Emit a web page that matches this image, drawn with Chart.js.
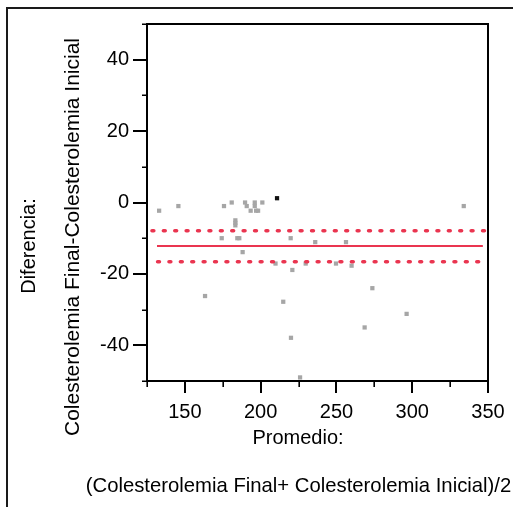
<!DOCTYPE html>
<html>
<head>
<meta charset="utf-8">
<script src="https://cdn.jsdelivr.net/npm/chart.js@4/dist/chart.umd.min.js"></script>
<style>
  html, body { margin: 0; padding: 0; background: #fff; }
  canvas { display: block; }
</style>
</head>
<body>
<canvas id="c" width="513" height="507"></canvas>
<script>
// Promedio (mean of final and initial cholesterol) for each patient
const promedio = [133, 145.7, 163.3, 174.3, 175.8, 180.9, 183.3, 183.3, 183.3, 184.6,
                  185.9, 188.1, 189.7, 190.8, 193.4, 196.1, 196.1, 197, 198.3, 201.1,
                  209.8, 214.9, 219.8, 220, 220.9, 226, 229.7, 236, 249.7, 256.3,
                  260, 268.6, 273.7, 296.3, 334];
// Diferencia (final minus initial cholesterol) for each patient
const diferencia = [-2.3, -1, -26.2, -10, -1, 0, -5, -5.7, -6.4, -10,
                    -10, -13.9, 0, -1, -2.3, 0, -1, -2.3, -2.3, 0,
                    -17.1, -27.8, -10, -37.9, -18.9, -49, -17.1, -11.1, -17.1, -11.1,
                    -17.7, -35, -24, -31.2, -1];
// Highlighted observation
const destacadoX = [210.8];
const destacadoY = [1.2];

// Mean difference and its confidence limits, with the x extent of each line
const mediaDif = -12.2;
const limiteSup = -7.9;
const limiteInf = -16.6;
const mediaRango = [131.6, 346.6];
const supRango = [128.3, 349.6];
const infRango = [132.0, 347.0];

// Axis ticks
const xTicks = [150, 200, 250, 300, 350];
const xMinorTicks = [125, 175, 225, 275, 325];
const yTicks = [40, 20, 0, -20, -40];
const yMinorTicks = [50, 30, 10, -10, -30, -50];

const FONT = '"Liberation Sans", Arial, sans-serif';
const RED = '#ea3550';

const puntos = promedio.map((x, i) => ({ x, y: diferencia[i] }));
const destacado = destacadoX.map((x, i) => ({ x, y: destacadoY[i] }));
const segmento = (rango, y) => rango.map(x => ({ x, y }));

// Frame, plot box, tick marks and axis titles
const decoracion = {
  id: 'decoracion',
  afterDraw(chart) {
    const { ctx, chartArea: a, scales: { x, y } } = chart;
    ctx.save();
    // outer frame
    ctx.strokeStyle = '#1a1a1a';
    ctx.lineWidth = 2;
    ctx.strokeRect(7, 8, 540, 540);
    // plot box
    ctx.strokeStyle = '#000';
    ctx.lineWidth = 2;
    ctx.strokeRect(a.left, a.top, a.right - a.left, a.bottom - a.top);
    // y ticks
    ctx.beginPath();
    yTicks.forEach(v => { const p = Math.round(y.getPixelForValue(v)); ctx.moveTo(a.left - 14, p); ctx.lineTo(a.left, p); });
    ctx.stroke();
    ctx.lineWidth = 1.6;
    ctx.beginPath();
    yMinorTicks.forEach(v => { const p = Math.round(y.getPixelForValue(v)) + 0.2; ctx.moveTo(a.left - 5, p); ctx.lineTo(a.left, p); });
    ctx.stroke();
    // x ticks
    ctx.lineWidth = 2;
    ctx.beginPath();
    xTicks.forEach(v => { const p = Math.round(x.getPixelForValue(v)); ctx.moveTo(p, a.bottom); ctx.lineTo(p, a.bottom + 12); });
    ctx.stroke();
    ctx.lineWidth = 1.6;
    ctx.beginPath();
    xMinorTicks.forEach(v => { const p = Math.round(x.getPixelForValue(v)) + 0.2; ctx.moveTo(p, a.bottom); ctx.lineTo(p, a.bottom + 6); });
    ctx.stroke();
    // titles
    ctx.fillStyle = '#000';
    ctx.font = '20px ' + FONT;
    ctx.textAlign = 'center';
    ctx.textBaseline = 'alphabetic';
    ctx.fillText('Promedio:', 298, 444);
    ctx.font = '20.3px ' + FONT;
    ctx.fillText('(Colesterolemia Final+ Colesterolemia Inicial)/2', 298.5, 492);
    ctx.font = '20px ' + FONT;
    ctx.save();
    ctx.translate(35, 246);
    ctx.rotate(-Math.PI / 2);
    ctx.fillText('Diferencia:', 0, 0);
    ctx.restore();
    ctx.save();
    ctx.translate(79, 237);
    ctx.rotate(-Math.PI / 2);
    ctx.font = '21px ' + FONT;
    ctx.fillText('Colesterolemia Final-Colesterolemia Inicial', 0, 0);
    ctx.restore();
    ctx.restore();
  }
};

new Chart(document.getElementById('c'), {
  type: 'scatter',
  data: {
    datasets: [
      { data: segmento(mediaRango, mediaDif), showLine: true, borderColor: RED, borderWidth: 2,
        pointRadius: 0, order: 0 },
      { data: segmento(supRango, limiteSup), showLine: true, borderColor: RED, borderWidth: 3.6,
        borderDash: [1.8, 9.6], borderCapStyle: 'round', pointRadius: 0, order: 0 },
      { data: segmento(infRango, limiteInf), showLine: true, borderColor: RED, borderWidth: 3.6,
        borderDash: [1.8, 9.6], borderCapStyle: 'round', pointRadius: 0, order: 0 },
      { data: puntos, pointStyle: 'rect', pointRadius: 3, borderWidth: 0,
        backgroundColor: '#a6a6a6', order: 2 },
      { data: destacado, pointStyle: 'rect', pointRadius: 3, borderWidth: 0,
        backgroundColor: '#111', order: 1 }
    ]
  },
  options: {
    responsive: false,
    animation: false,
    events: [],
    layout: { padding: { left: 0, top: 24, right: 25, bottom: 0 } },
    plugins: { legend: { display: false }, tooltip: { enabled: false } },
    scales: {
      x: {
        type: 'linear', min: 125, max: 350,
        afterFit: s => { s.height = 126; s.paddingLeft = 0; s.paddingRight = 0; },
        afterBuildTicks: s => { s.ticks = xTicks.map(v => ({ value: v })); },
        grid: { display: false, drawTicks: false },
        border: { display: false },
        ticks: { color: '#000', font: { family: FONT, size: 20 }, padding: 19, maxRotation: 0, autoSkip: false }
      },
      y: {
        type: 'linear', min: -50, max: 50,
        afterFit: s => { s.width = 147; s.paddingTop = 0; s.paddingBottom = 0; },
        afterBuildTicks: s => { s.ticks = yTicks.map(v => ({ value: v })); },
        grid: { display: false, drawTicks: false },
        border: { display: false },
        ticks: { color: '#000', font: { family: FONT, size: 20 }, padding: 18, autoSkip: false }
      }
    }
  },
  plugins: [decoracion]
});
</script>
</body>
</html>
